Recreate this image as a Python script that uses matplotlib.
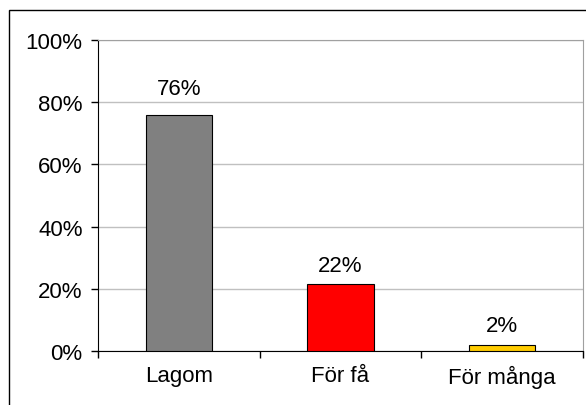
import matplotlib
matplotlib.use("Agg")
import matplotlib.pyplot as plt
from matplotlib.patches import Rectangle
from matplotlib.ticker import PercentFormatter

plt.rcParams['font.family'] = ['Liberation Sans', 'DejaVu Sans']

categories = ["Lagom", "För få", "För många"]
shares = [0.76, 0.215, 0.02]
bar_labels = ["76%", "22%", "2%"]
bar_colors = ["#808080", "#ff0000", "#ffcc00"]
label_offsets = [11.5, 6, 6]  # points above bar top

fig = plt.figure(figsize=(5.86, 4.06), dpi=100)

# outer chart frame (open on the right and bottom, like the reference crop)
fig.patches.append(Rectangle((9 / 586, -0.1), 1.2, 1 - 11 / 406 + 0.1,
                             transform=fig.transFigure, fill=False,
                             edgecolor="black", linewidth=1.0, clip_on=False))

ax = fig.add_axes([98 / 586, 1 - 352 / 406, (583 - 98) / 586, (352 - 41) / 406])

x = range(len(categories))
ax.bar(x, shares, width=0.41, color=bar_colors, edgecolor="black",
       linewidth=0.8, zorder=3)

for i, (v, lab) in enumerate(zip(shares, bar_labels)):
    ax.annotate(lab, (i, v), xytext=(0, label_offsets[i]),
                textcoords="offset points", ha="center", va="bottom",
                fontsize=16)

ax.set_xlim(-0.5, len(categories) - 0.5)
ax.set_ylim(0, 1.0)
ax.set_yticks([0, 0.2, 0.4, 0.6, 0.8, 1.0])
ax.yaxis.set_major_formatter(PercentFormatter(1.0, decimals=0))
ax.grid(axis="y", color="#c0c0c0", linewidth=1.0, zorder=0)

ax.set_xticks(list(x))
ax.set_xticklabels(categories)
ax.set_xticks([i - 0.5 for i in range(len(categories) + 1)], minor=True)
ax.tick_params(axis="x", which="major", length=0, pad=10, labelsize=16)
ax.tick_params(axis="x", which="minor", length=5, width=1, color="black")
ax.tick_params(axis="y", length=5, width=1, color="black", pad=6,
               labelsize=16)

for side in ("top", "right"):
    ax.spines[side].set_color("#a0a0a0")
for side in ("left", "bottom"):
    ax.spines[side].set_color("black")

fig.savefig("out.png", dpi=100)
